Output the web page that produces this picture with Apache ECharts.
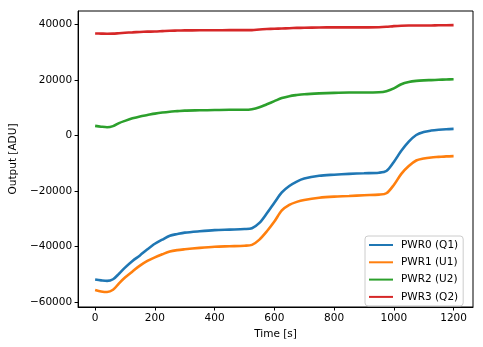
<!DOCTYPE html>
<html>
<head>
<meta charset="utf-8">
<script src="https://cdn.jsdelivr.net/npm/echarts@6/dist/echarts.min.js"></script>
<style>
html,body{margin:0;padding:0;background:#fff;}
#chart{width:483px;height:347px;}
</style>
</head>
<body>
<div id="chart"></div>
<script>
var times = [0,20,40,60,80,100,125,150,175,200,225,250,275,300,350,400,450,500,525,550,575,600,625,650,675,700,750,800,850,900,950,975,1000,1025,1050,1075,1100,1125,1150,1175,1200];
var pwr0 = [-51900,-52200,-52400,-51800,-49800,-47600,-45200,-43200,-41000,-39000,-37500,-36100,-35500,-35000,-34500,-34100,-33900,-33700,-33400,-31500,-28000,-24200,-20500,-18200,-16600,-15500,-14500,-14100,-13800,-13600,-13400,-12800,-9500,-5500,-2200,200,1300,1800,2100,2300,2400];
var pwr1 = [-55700,-56200,-56400,-55600,-53300,-51200,-49000,-46900,-45200,-43900,-42800,-41800,-41300,-41000,-40500,-40100,-39900,-39700,-39400,-37500,-34500,-31000,-27000,-25000,-23900,-23200,-22400,-22000,-21800,-21500,-21300,-20800,-17800,-13800,-11000,-9000,-8300,-7900,-7700,-7500,-7400];
var pwr2 = [3500,3200,3000,3400,4500,5300,6200,6900,7400,7900,8300,8600,8800,9000,9100,9200,9300,9300,9500,10200,11300,12400,13500,14200,14600,14900,15200,15400,15500,15500,15600,16000,17000,18500,19300,19700,19900,20000,20100,20200,20300];
var pwr3 = [36800,36750,36700,36750,36900,37050,37200,37350,37450,37500,37650,37800,37850,37900,37950,37950,38000,38000,38000,38250,38400,38500,38600,38700,38800,38850,38950,39000,39000,39000,39050,39200,39450,39600,39650,39650,39700,39700,39750,39750,39800];
var seriesNames = ['PWR0 (Q1)','PWR1 (U1)','PWR2 (U2)','PWR3 (Q2)'];
var xTicks = [0,200,400,600,800,1000,1200];
var yTicks = [-60000,-40000,-20000,0,20000,40000];

var colors = ['#1f77b4','#ff7f0e','#2ca02c','#d62728'];
var allData = [pwr0,pwr1,pwr2,pwr3];
function pairs(vals){ return times.map(function(t,i){ return [t, vals[i]]; }); }

var font = '"DejaVu Sans", sans-serif';
var fs = 10.5;
var chart = echarts.init(document.getElementById('chart'), null, {renderer:'canvas'});
chart.setOption({
  animation:false,
  backgroundColor:'#fff',
  color: colors,
  grid:{left:76, top:11, width:397, height:296, show:true, borderColor:'#000', borderWidth:1, backgroundColor:'transparent'},
  xAxis:{
    type:'value', min:-57, max:1265,
    name:'Time [s]', nameLocation:'middle', nameGap:20,
    nameTextStyle:{fontFamily:font, fontSize:fs, color:'#000'},
    axisLine:{show:true, onZero:false, lineStyle:{color:'#000', width:1}},
    axisTick:{show:true, length:3.5, lineStyle:{color:'#000', width:1}, customValues:xTicks},
    axisLabel:{fontFamily:font, fontSize:fs, color:'#000', margin:6, customValues:xTicks,
      formatter:function(v){ return String(v); }},
    splitLine:{show:false}
  },
  yAxis:{
    type:'value', min:-61800, max:44900,
    name:'Output [ADU]', nameLocation:'middle', nameGap:57,
    nameTextStyle:{fontFamily:font, fontSize:fs, color:'#000'},
    axisLine:{show:true, onZero:false, lineStyle:{color:'#000', width:1}},
    axisTick:{show:true, length:3.5, lineStyle:{color:'#000', width:1}, customValues:yTicks},
    axisLabel:{fontFamily:font, fontSize:fs, color:'#000', margin:6, customValues:yTicks,
      formatter:function(v){ return String(v).replace('-', '\u2212'); }},
    splitLine:{show:false}
  },
  legend:{
    orient:'vertical', left:365, top:236,
    padding:[3.5,5,3.5,4],
    itemWidth:24, itemHeight:10, itemGap:6.3,
    icon:'path://M0,4 L24,4 L24,6 L0,6 Z',
    backgroundColor:'rgba(255,255,255,0.8)', borderColor:'#cccccc', borderWidth:1, borderRadius:3,
    textStyle:{fontFamily:font, fontSize:fs, color:'#000', padding:[0,0,0,3]},
    data: seriesNames
  },
  series: allData.map(function(vals, i){
    return {
      name: seriesNames[i], type:'line', data: pairs(vals),
      showSymbol:false, symbol:'none', smooth:0.3,
      lineStyle:{color:colors[i], width:2.6},
      itemStyle:{color:colors[i]}
    };
  })
});
</script>
</body>
</html>
